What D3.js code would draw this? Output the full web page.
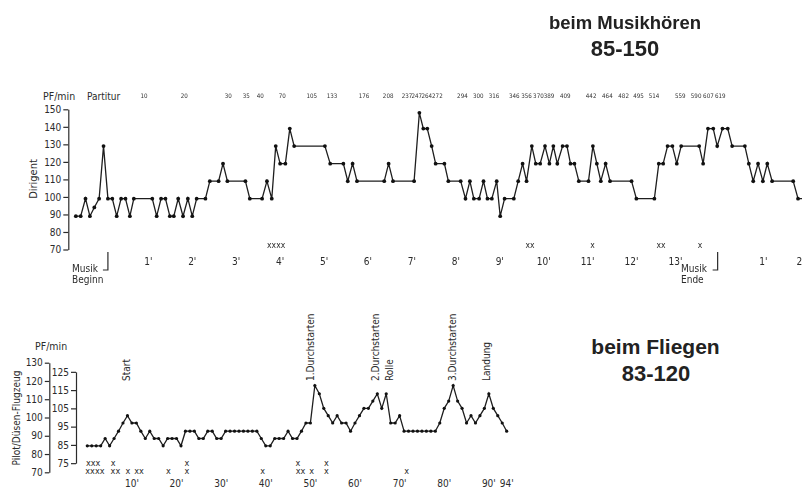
<!DOCTYPE html>
<html>
<head>
<meta charset="utf-8">
<script src="https://cdn.jsdelivr.net/npm/d3@7"></script>
<style>
  body { margin: 0; background: #fff; }
  text { font-family: "DejaVu Sans Condensed", "Liberation Sans Narrow", sans-serif; fill: #2b2b2b; }
  .titel { font-family: "Liberation Sans", Arial, sans-serif; font-weight: bold; fill: #222; }
  .achse path, .achse line { stroke: #2b2b2b; stroke-width: 1.2; }
  .achse text { font-size: 10px; }
  .takt { will-change: transform; }
  .takt text { fill: #333; }
</style>
</head>
<body>
<svg id="chart" width="802" height="492"></svg>
<script>
// ---- oben: Dirigent beim Musikhoeren (Zeit in Minuten ab Musikbeginn, Puls PF/min)
const topZeit = [-0.65, -0.54, -0.43, -0.33, -0.23, -0.12, -0.02, 0.08, 0.18, 0.28, 0.38, 0.48, 0.58, 0.67,
  1.09, 1.19, 1.29, 1.39, 1.49, 1.58, 1.68, 1.79, 1.90, 2.00, 2.10, 2.30, 2.40, 2.60, 2.70, 2.80,
  3.21, 3.31, 3.59, 3.70, 3.81, 3.90, 4.00, 4.12, 4.22, 4.32, 5.02, 5.14, 5.44, 5.54, 5.65, 5.75,
  6.37, 6.47, 6.57, 7.05, 7.17, 7.26, 7.35, 7.45, 7.54, 7.74, 7.83, 8.11, 8.22, 8.32, 8.41, 8.53,
  8.63, 8.72, 8.82, 8.93, 9.01, 9.11, 9.32, 9.42, 9.52, 9.61, 9.73, 9.82, 9.92, 10.03, 10.13, 10.22,
  10.31, 10.43, 10.53, 10.61, 10.70, 10.80, 11.02, 11.12, 11.21, 11.30, 11.41, 11.51, 12.00, 12.11,
  12.52, 12.62, 12.72, 12.82, 12.93, 13.03, 13.13, 13.54, 13.63, 13.74, 13.86, 13.95, 14.07, 14.19,
  14.29, 14.58, 14.67, 14.77, 14.88, 14.99, 15.09, 15.20, 15.68, 15.79, 16.00];
const topPuls = [89, 89, 99, 89, 94, 99, 129, 99, 99, 89, 99, 99, 89, 99,
  99, 89, 99, 99, 89, 89, 99, 89, 99, 89, 99, 99, 109, 109, 119, 109,
  109, 99, 99, 109, 99, 129, 119, 119, 139, 129, 129, 119, 119, 109, 119, 109,
  109, 119, 109, 109, 148, 139, 139, 129, 119, 119, 109, 109, 99, 109, 99, 99,
  109, 99, 99, 109, 89, 99, 99, 109, 119, 109, 129, 119, 119, 129, 119, 129,
  119, 129, 129, 119, 119, 109, 109, 129, 119, 109, 119, 109, 109, 99,
  99, 119, 119, 129, 129, 119, 129, 129, 119, 139, 139, 129, 139, 139,
  129, 129, 119, 109, 119, 109, 119, 109, 109, 99, 99];

const dirigentTicks = [70, 80, 90, 100, 110, 120, 130, 140, 150];
const musikMinuten = [1, 2, 3, 4, 5, 6, 7, 8, 9, 10, 11, 12, 13];
const nachMinuten = ["1'", "2'"];
const nachZeit = [15, 15.85];

const taktNr = [10, 20, 30, 35, 40, 70, 105, 133, 176, 208, 237, 247, 264, 272, 294, 300, 316,
  346, 356, 370, 389, 409, 442, 464, 482, 495, 514, 559, 590, 607, 619];
const taktZeit = [0.90, 1.82, 2.82, 3.23, 3.55, 4.05, 4.72, 5.18, 5.91, 6.46, 6.89, 7.11, 7.34, 7.58,
  8.15, 8.51, 8.87, 9.33, 9.61, 9.88, 10.12, 10.49, 11.08, 11.45, 11.82, 12.16, 12.51, 13.11,
  13.47, 13.75, 14.02];

const topKreuze = ["xxxx", "xx", "x", "xx", "x"];
const topKreuzZeit = [3.91, 9.69, 11.11, 12.67, 13.56];

// ---- unten: Pilot im Duesenflugzeug (ein Wert pro Minute, 0' bis 94')
const flugPuls = [84.5, 84.5, 84.5, 84.5, 88.5, 84.5, 88.5, 92.5, 97, 101,
  97, 97, 92.5, 88.5, 92.5, 88.5, 88.5, 84.5, 88.5, 88.5,
  88.5, 84.5, 92.5, 92.5, 92.5, 88.5, 88.5, 92.5, 92.5, 88.5,
  88.5, 92.5, 92.5, 92.5, 92.5, 92.5, 92.5, 92.5, 92.5, 88.5,
  84.5, 84.5, 88.5, 88.5, 88.5, 92.5, 88.5, 88.5, 92.5, 97,
  97, 117.5, 113, 105, 101, 97, 101, 97, 97, 92.5,
  97, 101, 105, 105, 109, 113, 105, 113, 97, 97,
  101, 92.5, 92.5, 92.5, 92.5, 92.5, 92.5, 92.5, 92.5, 97,
  105, 109, 117.5, 109, 105, 97, 101, 97, 101, 105,
  113, 105, 101, 97, 92.5];

const pilotTicks = [70, 80, 90, 100, 110, 120, 130];
const duesenTicks = [75, 85, 95, 105, 115, 125];
const flugMinuten = ["10'", "20'", "30'", "40'", "50'", "60'", "70'", "80'", "90'", "94'"];
const flugMinutenWert = [10, 20, 30, 40, 50, 60, 70, 80, 90, 94];

const ereignisse = ["Start", "1.Durchstarten", "2.Durchstarten", "Rolle", "3.Durchstarten", "Landung"];
const ereignisZeit = [8.7, 50.1, 64.6, 67.6, 81.8, 89.5];

const kreuzeOben = ["xxx", "x", "x", "x", "x"];
const kreuzeObenZeit = [1.3, 5.8, 22.3, 47.2, 53.6];
const kreuzeUnten = ["xxxx", "xx", "x", "xx", "x", "x", "x", "xx", "x", "x", "x"];
const kreuzeUntenZeit = [1.7, 6.3, 9.1, 11.6, 18.2, 22.3, 39.3, 47.8, 50.3, 53.6, 71.6];

const svg = d3.select("#chart");

// ================= oberes Diagramm =================
const xTop = d3.scaleLinear().domain([0, 14]).range([104.4, 719.4]);
const yTop = d3.scaleLinear().domain([70, 150]).range([249.5, 109.3]);

svg.append("g").attr("class", "achse")
  .attr("transform", "translate(68.3,0)")
  .call(d3.axisLeft(yTop).tickValues(dirigentTicks).tickSize(5).tickSizeOuter(0).tickPadding(2));

const topPunkte = d3.zip(topZeit, topPuls);
svg.append("path")
  .datum(topPunkte)
  .attr("fill", "none")
  .attr("stroke", "#1e1e1e")
  .attr("stroke-width", 1.3)
  .attr("d", d3.line().x(d => xTop(d[0])).y(d => yTop(d[1])));

svg.append("g").selectAll("circle")
  .data(topPunkte.filter(d => d[0] < 15.9))
  .join("circle")
  .attr("cx", d => xTop(d[0]))
  .attr("cy", d => yTop(d[1]))
  .attr("r", 1.9)
  .attr("fill", "#111");

svg.append("text").attr("x", 43).attr("y", 99.6).style("font-size", "10.5px").text("PF/min");
svg.append("text").attr("x", 87).attr("y", 99.6).style("font-size", "10px").text("Partitur");

svg.append("g").attr("class", "takt").selectAll("text")
  .data(d3.zip(taktNr, taktZeit))
  .join("text")
  .attr("x", d => xTop(d[1]))
  .attr("y", 98.2)
  .attr("text-anchor", "middle")
  .style("font-size", "6.2px")
  .text(d => d[0]);

svg.append("text")
  .attr("transform", "translate(37,179) rotate(-90)")
  .attr("text-anchor", "middle")
  .style("font-size", "11px")
  .text("Dirigent");

svg.append("g").selectAll("text")
  .data(musikMinuten)
  .join("text")
  .attr("x", d => xTop(d))
  .attr("y", 265.3)
  .attr("text-anchor", "middle")
  .style("font-size", "10px")
  .text(d => d + "'");

svg.append("g").selectAll("text")
  .data(d3.zip(nachMinuten, nachZeit))
  .join("text")
  .attr("x", d => xTop(d[1]))
  .attr("y", 265.3)
  .attr("text-anchor", "middle")
  .style("font-size", "10px")
  .text(d => d[0]);

svg.append("g").selectAll("text")
  .data(d3.zip(topKreuze, topKreuzZeit))
  .join("text")
  .attr("x", d => xTop(d[1]))
  .attr("y", 247.5)
  .attr("text-anchor", "middle")
  .style("font-size", "8.5px")
  .text(d => d[0]);

// Musik Beginn / Ende Markierungen
const marken = [
  { t: 0.08, zeilen: ["Musik", "Beginn"], tx: 72 },
  { t: 13.96, zeilen: ["Musik", "Ende"], tx: 681 }
];
marken.forEach(m => {
  const x = xTop(m.t);
  svg.append("path")
    .attr("d", `M${x},252 V270 H${x - 5}`)
    .attr("fill", "none").attr("stroke", "#2b2b2b").attr("stroke-width", 1.2);
  svg.append("text").attr("x", m.tx).attr("y", 272).style("font-size", "10px").text(m.zeilen[0]);
  svg.append("text").attr("x", m.tx).attr("y", 282.5).style("font-size", "10px").text(m.zeilen[1]);
});

svg.append("text").attr("class", "titel").attr("x", 625).attr("y", 28.5)
  .attr("text-anchor", "middle").style("font-size", "18.5px").text("beim Musikhören");
svg.append("text").attr("class", "titel").attr("x", 625).attr("y", 55.5)
  .attr("text-anchor", "middle").style("font-size", "22px").text("85-150");

// ================= unteres Diagramm =================
const xBot = d3.scaleLinear().domain([0, 94]).range([87.3, 506.7]);
const yBot = d3.scaleLinear().domain([70, 130]).range([472.3, 362.7]);
const yBotInnen = d3.scaleLinear().domain([75, 125]).range([yBot(75), yBot(125)]);

svg.append("g").attr("class", "achse")
  .attr("transform", "translate(49.3,0)")
  .call(d3.axisLeft(yBot).tickValues(pilotTicks).tickSize(4.5).tickSizeOuter(0).tickPadding(2));

svg.append("g").attr("class", "achse")
  .attr("transform", "translate(76,0)")
  .call(d3.axisLeft(yBotInnen).tickValues(duesenTicks).tickSize(5).tickSizeOuter(0).tickPadding(2));

svg.append("text").attr("x", 35).attr("y", 350.3).style("font-size", "10.5px").text("PF/min");

svg.append("text")
  .attr("transform", "translate(19.6,418) rotate(-90)")
  .attr("text-anchor", "middle")
  .style("font-size", "10px")
  .text("Pilot/Düsen-Flugzeug");

svg.append("path")
  .datum(flugPuls)
  .attr("fill", "none")
  .attr("stroke", "#1e1e1e")
  .attr("stroke-width", 1.3)
  .attr("d", d3.line().x((d, i) => xBot(i)).y(d => yBot(d)));

svg.append("g").selectAll("circle")
  .data(flugPuls)
  .join("circle")
  .attr("cx", (d, i) => xBot(i))
  .attr("cy", d => yBot(d))
  .attr("r", 1.6)
  .attr("fill", "#111");

svg.append("g").selectAll("text")
  .data(d3.zip(flugMinuten, flugMinutenWert))
  .join("text")
  .attr("x", d => xBot(d[1]))
  .attr("y", 487)
  .attr("text-anchor", "middle")
  .style("font-size", "10px")
  .text(d => d[0]);

svg.append("g").selectAll("text")
  .data(d3.zip(ereignisse, ereignisZeit))
  .join("text")
  .attr("transform", d => `translate(${xBot(d[1]) + 3.6},381) rotate(-90)`)
  .style("font-size", "10px")
  .text(d => d[0]);

svg.append("g").selectAll("text")
  .data(d3.zip(kreuzeOben, kreuzeObenZeit))
  .join("text")
  .attr("x", d => xBot(d[1]))
  .attr("y", 465.8)
  .attr("text-anchor", "middle")
  .style("font-size", "9px")
  .text(d => d[0]);

svg.append("g").selectAll("text")
  .data(d3.zip(kreuzeUnten, kreuzeUntenZeit))
  .join("text")
  .attr("x", d => xBot(d[1]))
  .attr("y", 474.2)
  .attr("text-anchor", "middle")
  .style("font-size", "9px")
  .text(d => d[0]);

svg.append("text").attr("class", "titel").attr("x", 655.5).attr("y", 354)
  .attr("text-anchor", "middle").style("font-size", "21px").text("beim Fliegen");
svg.append("text").attr("class", "titel").attr("x", 656).attr("y", 381)
  .attr("text-anchor", "middle").style("font-size", "22px").text("83-120");
</script>
</body>
</html>
